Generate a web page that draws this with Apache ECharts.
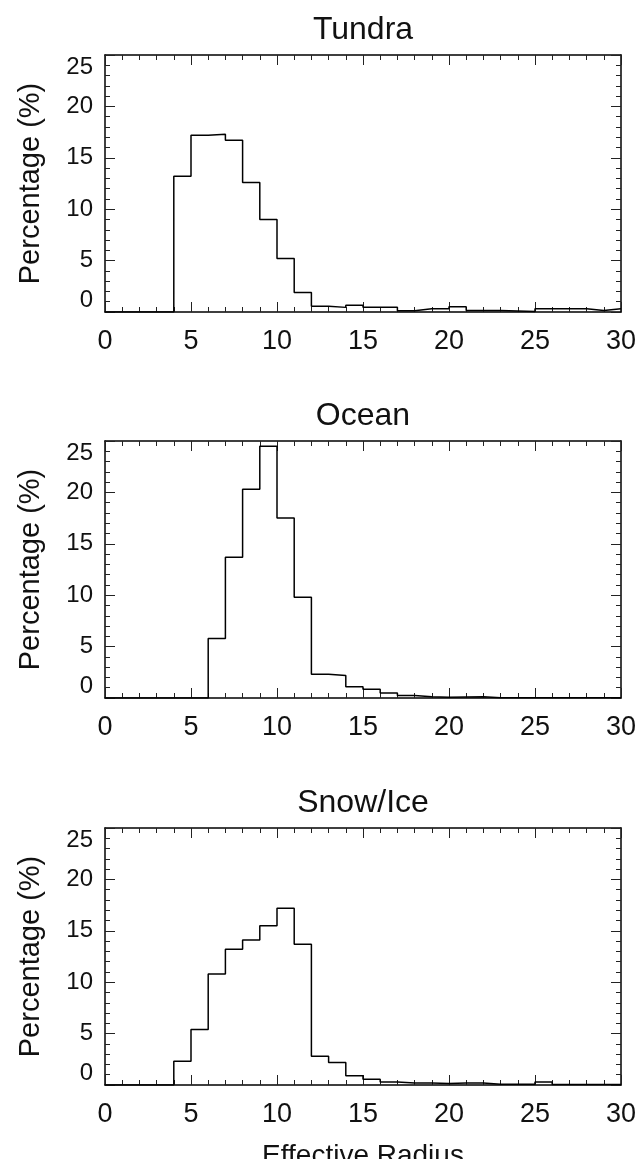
<!DOCTYPE html>
<html>
<head>
<meta charset="utf-8">
<title>Effective Radius</title>
<script src="https://cdn.jsdelivr.net/npm/echarts@6/dist/echarts.min.js"></script>
<style>
  html, body { margin: 0; padding: 0; background: #fff; }
  #main { width: 644px; height: 1159px; }
</style>
</head>
<body>
<div id="main"></div>
<script>
// left edge of each bin (width 1)
var radiusBins = [0, 1, 2, 3, 4, 5, 6, 7, 8, 9, 10, 11, 12, 13, 14, 15, 16, 17, 18, 19, 20, 21, 22, 23, 24, 25, 26, 27, 28, 29];
var tundraPct = [0, 0, 0, 0, 13.2, 17.2, 17.3, 16.7, 12.6, 9.0, 5.2, 1.9, 0.55, 0.45, 0.65, 0.45, 0.45, 0.13, 0.32, 0.32, 0.52, 0.15, 0.15, 0.1, 0.05, 0.32, 0.32, 0.32, 0.15, 0.32];
var oceanPct = [0, 0, 0, 0, 0, 0, 5.8, 13.7, 20.3, 24.5, 17.5, 9.8, 2.3, 2.2, 1.1, 0.85, 0.48, 0.25, 0.12, 0.08, 0.1, 0.12, 0.03, 0.02, 0.02, 0.02, 0.02, 0.02, 0.02, 0.02];
var snowPct = [0, 0, 0, 0, 2.3, 5.4, 10.8, 13.2, 14.1, 15.5, 17.2, 13.7, 2.8, 2.2, 0.9, 0.55, 0.3, 0.2, 0.2, 0.15, 0.2, 0.2, 0.08, 0.08, 0.08, 0.3, 0.05, 0.05, 0.05, 0.05];
var panelTitles = ['Tundra', 'Ocean', 'Snow/Ice'];
var xTicks = [0, 5, 10, 15, 20, 25, 30];
var yTicks = [0, 5, 10, 15, 20, 25];

var FONT = '"Liberation Sans", Arial, sans-serif';
var panels = [tundraPct, oceanPct, snowPct];
var gridTops = [55, 441, 828];

function stepData (vals) {
  var d = radiusBins.map(function (x, i) { return [x, vals[i]]; });
  // close the last bin at the right edge
  d.push([xTicks[xTicks.length - 1], vals[vals.length - 1]]);
  return d;
}

var tickStyle = { color: '#222', width: 1 };
var option = {
  animation: false,
  backgroundColor: '#fff',
  title: [],
  grid: [],
  xAxis: [],
  yAxis: [],
  series: []
};

panels.forEach(function (vals, i) {
  option.title.push({
    text: panelTitles[i],
    left: 358,
    top: gridTops[i] - 46,
    textAlign: 'center',
    textStyle: { fontFamily: FONT, fontSize: 32, fontWeight: 'normal', color: '#111' }
  });
  // fixed box, labels may run outside it
  option.grid.push({ left: 105, top: gridTops[i], width: 516, height: 257, outerBoundsMode: 'none', containLabel: false });

  var xBase = {
    type: 'value',
    gridIndex: i,
    min: xTicks[0],
    max: xTicks[xTicks.length - 1],
    interval: xTicks[1] - xTicks[0],
    splitLine: { show: false },
    axisLine: { show: true, onZero: false, lineStyle: { color: '#000', width: 1.5 } },
    axisTick: { show: true, inside: true, length: 10, lineStyle: tickStyle },
    minorTick: { show: true, splitNumber: 5, length: 5, lineStyle: tickStyle }
  };
  var yBase = {
    type: 'value',
    gridIndex: i,
    min: yTicks[0],
    max: yTicks[yTicks.length - 1],
    interval: yTicks[1] - yTicks[0],
    splitLine: { show: false },
    axisLine: { show: true, onZero: false, lineStyle: { color: '#000', width: 1.5 } },
    axisTick: { show: true, inside: true, length: 10, lineStyle: tickStyle },
    minorTick: { show: true, splitNumber: 5, length: 5, lineStyle: tickStyle }
  };

  // bottom axis with labels
  option.xAxis.push(Object.assign({}, xBase, {
    position: 'bottom',
    axisLabel: { show: true, margin: 16, fontFamily: FONT, fontSize: 27, color: '#111' },
    name: i === 2 ? 'Effective Radius' : '',
    nameLocation: 'middle',
    nameGap: 57,
    nameTextStyle: { fontFamily: FONT, fontSize: 28, color: '#111' }
  }));
  // top mirror
  option.xAxis.push(Object.assign({}, xBase, { position: 'top', axisLabel: { show: false } }));

  // left axis with labels
  option.yAxis.push(Object.assign({}, yBase, {
    position: 'left',
    axisLabel: {
      show: true, margin: 12, fontFamily: FONT, fontSize: 24, color: '#111',
      verticalAlignMinLabel: 'bottom', verticalAlignMaxLabel: 'top'
    },
    name: 'Percentage (%)',
    nameLocation: 'middle',
    nameGap: 60,
    nameTextStyle: { fontFamily: FONT, fontSize: 29, color: '#111' }
  }));
  // right mirror
  option.yAxis.push(Object.assign({}, yBase, { position: 'right', axisLabel: { show: false } }));

  option.series.push({
    type: 'line',
    xAxisIndex: i * 2,
    yAxisIndex: i * 2,
    step: 'end',
    symbol: 'none',
    data: stepData(vals),
    lineStyle: { color: '#000', width: 1.5 }
  });
});

var myChart = echarts.init(document.getElementById('main'));
myChart.setOption(option);
window.addEventListener('resize', function () {
  myChart.resize();
});
</script>
</body>
</html>
